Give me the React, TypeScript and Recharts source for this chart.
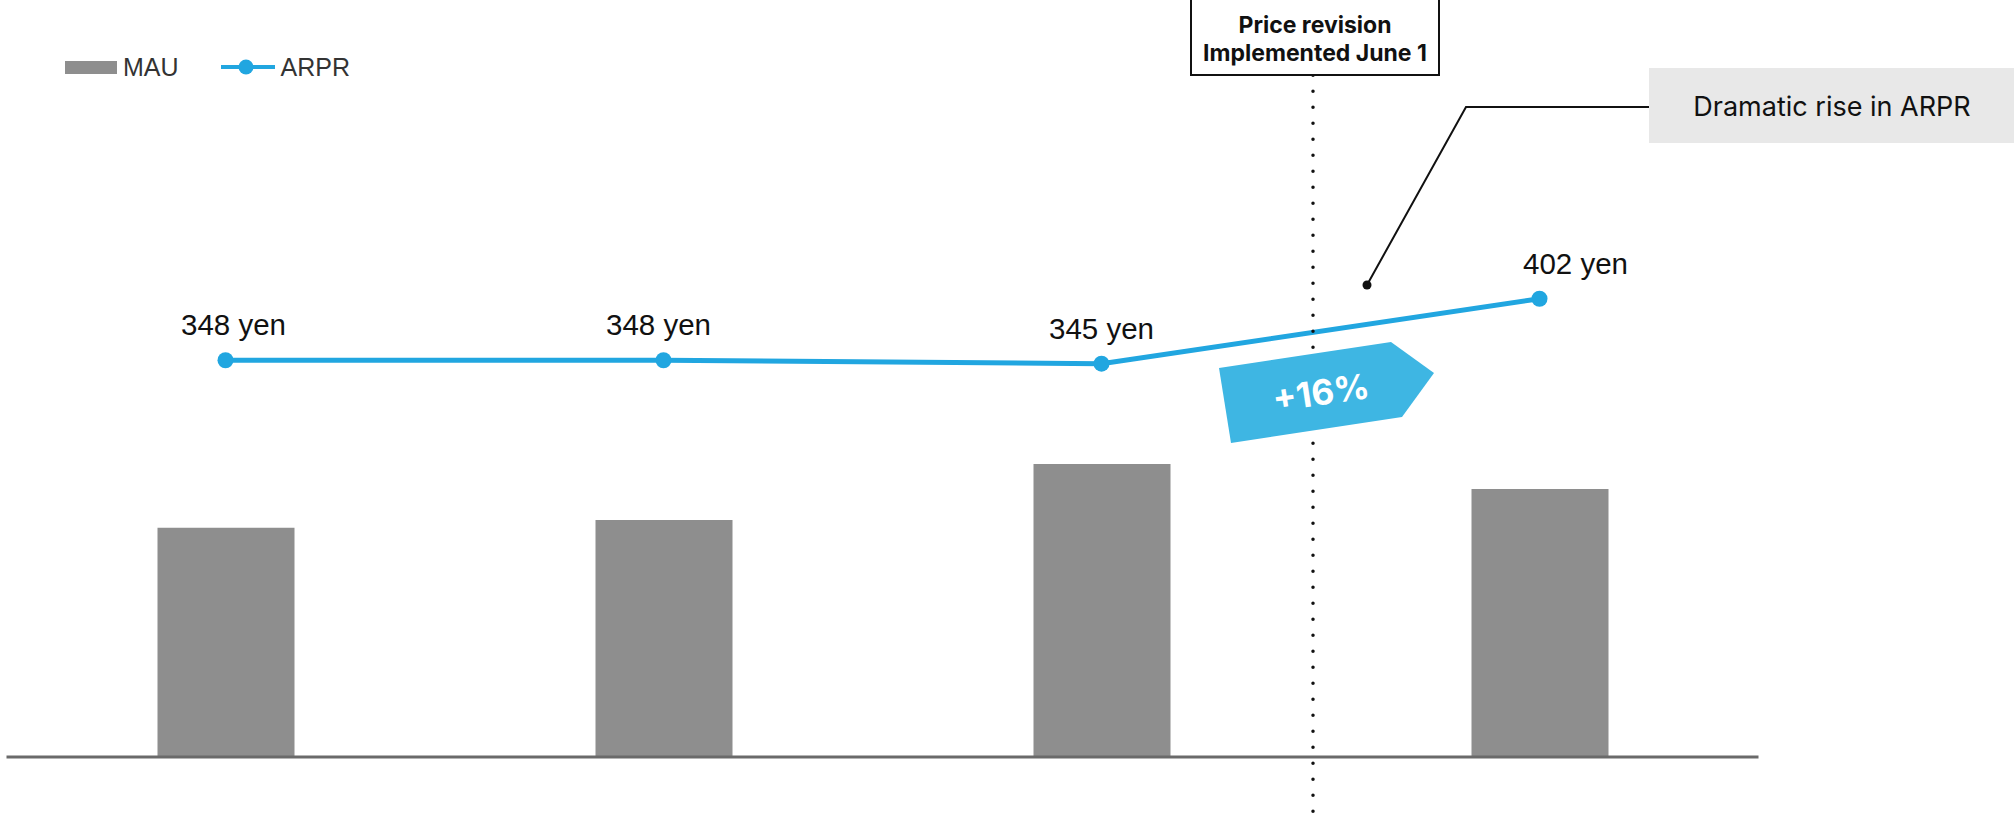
import { ComposedChart, Bar, Line, XAxis, YAxis, Legend } from "recharts";

// values
const periods = ["Period 1", "Period 2", "Period 3", "Period 4"];
const mauValues = [201, 208, 257, 235];
const arprValues = [348, 348, 345, 402];

const data = periods.map((period, i) => ({
  period,
  MAU: mauValues[i],
  ARPR: arprValues[i],
}));

const barColor = "#8e8e8e";
const lineColor = "#21a6e0";
const arrowColor = "#3eb6e3";
const sansFont = "'Liberation Sans', Arial, sans-serif";
const geoFont = "Inter, 'Open Sans', sans-serif";

// small nudges so labels sit like the original slide
const labelShift = [8, -5, 0, 36];

function YenLabel(props: any) {
  const { x, y, value, index } = props;
  return (
    <text
      x={x + (labelShift[index] ?? 0)}
      y={y - 25}
      textAnchor="middle"
      fontSize={29.5}
      fontFamily={sansFont}
      fill="#111"
    >
      {value} yen
    </text>
  );
}

function LegendContent({ payload }: any) {
  const items = [...(payload || [])].sort((a: any, b: any) =>
    a.value === "MAU" ? -1 : b.value === "MAU" ? 1 : 0
  );
  return (
    <div style={{ display: "flex", alignItems: "center", height: 30 }}>
      {items.map((item: any) => (
        <div
          key={item.value}
          style={{ display: "flex", alignItems: "center", marginRight: 42 }}
        >
          {item.value === "MAU" ? (
            <div style={{ width: 52, height: 13, background: barColor }} />
          ) : (
            <svg width={54} height={16}>
              <line x1={0} y1={8} x2={54} y2={8} stroke={lineColor} strokeWidth={4} />
              <circle cx={25} cy={8} r={7.5} fill={lineColor} />
            </svg>
          )}
          <span
            style={{
              marginLeft: 6,
              fontFamily: sansFont,
              fontSize: 25,
              color: "#333",
              lineHeight: "30px",
            }}
          >
            {item.value}
          </span>
        </div>
      ))}
    </div>
  );
}

function Annotations() {
  return (
    <svg
      width={2014}
      height={817}
      style={{ position: "absolute", left: 0, top: 0, pointerEvents: "none" }}
    >
      {/* price revision marker */}
      <line
        x1={1313}
        y1={75.3}
        x2={1313}
        y2={817}
        stroke="#111"
        strokeWidth={3.5}
        strokeLinecap="round"
        strokeDasharray="0 16"
      />
      <rect x={1191} y={-1} width={248} height={76} fill="#fff" stroke="#111" strokeWidth={2} />
      <text
        x={1315}
        y={33}
        textAnchor="middle"
        fontSize={23}
        fontWeight={700}
        fontFamily={geoFont}
        fill="#111"
      >
        Price revision
      </text>
      <text
        x={1315}
        y={61}
        textAnchor="middle"
        fontSize={23}
        fontWeight={700}
        fontFamily={geoFont}
        fill="#111"
      >
        Implemented June 1
      </text>

      {/* callout */}
      <polyline
        points="1367,285 1466,107 1649,107"
        fill="none"
        stroke="#111"
        strokeWidth={2}
      />
      <circle cx={1367} cy={285} r={4.5} fill="#111" />
      <rect x={1649} y={68} width={365} height={75} fill="#e8e8e8" />
      <text
        x={1832}
        y={116}
        textAnchor="middle"
        fontSize={27}
        fontFamily={geoFont}
        fill="#111"
      >
        Dramatic rise in ARPR
      </text>

      {/* +16% arrow */}
      <polygon
        points="1219,368 1391,342 1434,373 1402,417 1231,443"
        fill={arrowColor}
      />
      <text
        x={1321}
        y={405}
        textAnchor="middle"
        fontSize={35}
        fontWeight={700}
        fontFamily={geoFont}
        fill="#fff"
        transform="rotate(-8.6 1321 393)"
      >
        +16%
      </text>
    </svg>
  );
}

export default function App() {
  return (
    <div
      style={{
        position: "absolute",
        left: 0,
        top: 0,
        width: 2014,
        height: 817,
        background: "#fff",
        overflow: "hidden",
      }}
    >
      <ComposedChart
        width={2014}
        height={817}
        data={data}
        margin={{ top: 73, right: 255.5, bottom: 0, left: 6.5 }}
      >
        <XAxis
          dataKey="period"
          height={60}
          tick={false}
          tickLine={false}
          axisLine={{ stroke: "#6a6a6a", strokeWidth: 3 }}
        />
        <YAxis yAxisId="mau" domain={[0, 600]} hide />
        <YAxis yAxisId="arpr" domain={[0, 600]} hide />
        <Legend
          layout="vertical"
          align="center"
          verticalAlign="middle"
          content={<LegendContent />}
          wrapperStyle={{ position: "absolute", left: 65, top: 52, width: "auto" }}
        />
        <Bar
          yAxisId="mau"
          dataKey="MAU"
          name="MAU"
          fill={barColor}
          barSize={137}
          isAnimationActive={false}
        />
        <Line
          yAxisId="arpr"
          dataKey="ARPR"
          name="ARPR"
          type="linear"
          stroke={lineColor}
          strokeWidth={5}
          dot={{ r: 8, fill: lineColor, stroke: "none" }}
          activeDot={false}
          label={<YenLabel />}
          isAnimationActive={false}
        />
      </ComposedChart>
      <Annotations />
    </div>
  );
}
